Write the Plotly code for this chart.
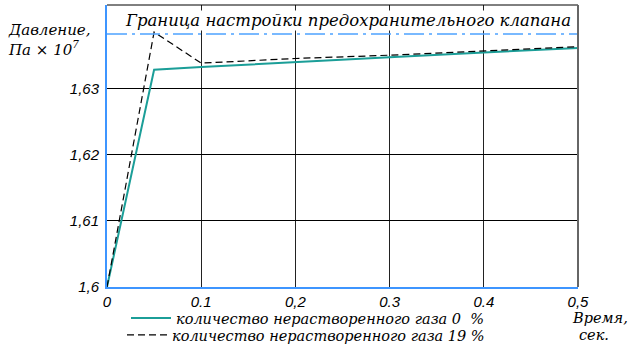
import plotly.graph_objects as go

# Pressure build-up versus time for two amounts of undissolved gas
time_s = [0, 0.05, 0.1, 0.2, 0.3, 0.4, 0.5]
pressure_gas0 = [1.6, 1.6329, 1.6333, 1.6341, 1.6348, 1.6355, 1.6362]
pressure_gas19 = [1.6, 1.6386, 1.6339, 1.6346, 1.6351, 1.6357, 1.6364]
valve_limit = 1.6383

x_ticks = [0, 0.1, 0.2, 0.3, 0.4, 0.5]
x_ticktext = ["0", "0.1", "0,2", "0.3", "0.4", "0,5"]
y_ticks = [1.6, 1.61, 1.62, 1.63]
y_ticktext = ["1,6", "1,61", "1,62", "1,63"]

name_gas0 = "количество нерастворенного газа 0  %"
name_gas19 = "количество нерастворенного газа 19 %"

W, H = 632, 344
L, R, T, B = 107, 54, 5, 57
pw, ph = W - L - R, H - T - B


def px_x(px):
    return (px - L) / pw


def px_y(py):
    return (H - B - py) / ph


def it(s):
    return "<i>" + s + "</i>"


serif = dict(family="DejaVu Serif", size=15, color="black")
time_font = dict(family="DejaVu Serif", size=14.5, color="black")
legend_font = dict(family="DejaVu Serif", size=14.5, color="black")
sans = dict(family="Liberation Sans", size=15, color="black")

fig = go.Figure()
fig.add_trace(go.Scatter(
    x=time_s, y=pressure_gas0, mode="lines", name=it(name_gas0),
    line=dict(color="#1b9e98", width=2), legend="legend",
))
fig.add_trace(go.Scatter(
    x=time_s, y=pressure_gas19, mode="lines", name=it(name_gas19),
    line=dict(color="black", width=1.2, dash="7px,4px"), legend="legend2",
))

# relief valve setting limit
fig.add_shape(type="line", xref="paper", x0=0, x1=1, yref="y",
              y0=valve_limit, y1=valve_limit,
              line=dict(color="#4da3ff", width=1.5, dash="20px,5px,3px,5px"))
# top and right frame
fig.add_shape(type="line", xref="paper", yref="paper", x0=0, x1=1, y0=1, y1=1,
              line=dict(color="black", width=1))
fig.add_shape(type="line", xref="paper", yref="paper", x0=1, x1=1, y0=0, y1=1,
              line=dict(color="#666666", width=2))

fig.add_annotation(text=it("Граница настройки предохранительного клапана"),
                   xref="paper", yref="paper", x=px_x(348), y=px_y(21),
                   xanchor="center", yanchor="middle", showarrow=False,
                   font=dict(family="DejaVu Serif", size=16.5, color="black"),
                   bgcolor="white", borderpad=0)
fig.add_annotation(text=it("Давление,<br>Па × 10<sup>7</sup>"),
                   xref="paper", yref="paper", x=px_x(6), y=px_y(19),
                   xanchor="left", yanchor="top", align="left", showarrow=False,
                   font=serif)
# time axis title, two lines
fig.add_annotation(text=it("Время,"),
                   xref="paper", yref="paper", x=px_x(571), y=px_y(318),
                   xanchor="left", yanchor="middle", showarrow=False,
                   font=time_font, borderpad=0)
fig.add_annotation(text=it("сек."),
                   xref="paper", yref="paper", x=px_x(578), y=px_y(335),
                   xanchor="left", yanchor="middle", showarrow=False,
                   font=time_font, borderpad=0)

fig.update_xaxes(
    range=[0, 0.5], tickvals=x_ticks, ticktext=[it(t) for t in x_ticktext],
    showgrid=True, gridcolor="#222222", gridwidth=1,
    showline=True, linecolor="#3d95ff", linewidth=2,
    ticks="", tickfont=sans, zeroline=False,
)
fig.update_yaxes(
    range=[1.6, 1.6427], tickvals=y_ticks, ticktext=[it(t) for t in y_ticktext],
    showgrid=True, gridcolor="black", gridwidth=1,
    showline=True, linecolor="#3d95ff", linewidth=2,
    ticks="", tickfont=sans, zeroline=False, ticklabelstandoff=3,
)

legend_common = dict(xanchor="left", yanchor="middle", orientation="v",
                     font=legend_font, bgcolor="rgba(0,0,0,0)", itemwidth=40)
fig.update_layout(
    width=W, height=H,
    margin=dict(l=L, r=R, t=T, b=B, autoexpand=False),
    paper_bgcolor="white", plot_bgcolor="white",
    showlegend=True,
    legend=dict(x=px_x(126), y=px_y(318), **legend_common),
    legend2=dict(x=px_x(122), y=px_y(335), **legend_common),
)

fig.write_html("out.html")
